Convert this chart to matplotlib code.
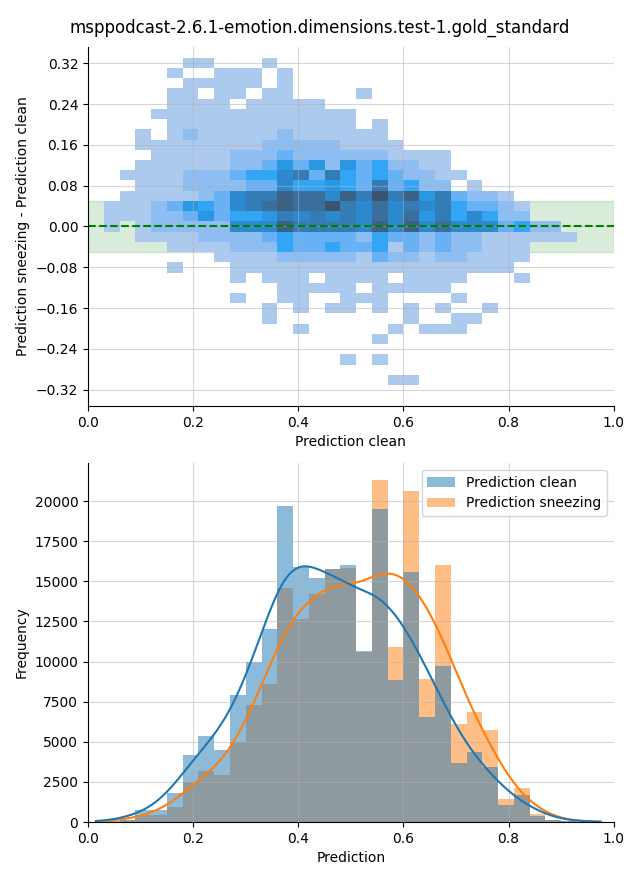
import numpy as np
import pandas as pd
import matplotlib
matplotlib.use('Agg')
import matplotlib.pyplot as plt
import seaborn as sns

title = 'msppodcast-2.6.1-emotion.dimensions.test-1.gold_standard'

# top: 2d histogram, prediction clean (x) vs. sneezing - clean (y)
# bins
x_lo, x_hi, n_x = 0.03, 0.93, 30
y_lo, y_hi, n_y = -0.311, 0.331, 32
# one string per row of cells, top row first, one hex digit per cell
# (relative count read off the colour, 0 = empty)
diff_rows = [
    "000001100010000000000000000000",
    "000010011101000000000000000000",
    "000001111101000000000000000000",
    "000011011011000010000000000000",
    "000011110111110000000000000000",
    "000111111111111100000000000000",
    "000011111111111101000000000000",
    "001012111112111111000000000000",
    "001111111122222111100000000000",
    "000111112223222222111100000000",
    "001111112235352534221100000000",
    "011112223446737434322110000000",
    "001112222336445437342201000000",
    "01111123677988697a795732210000",
    "11123543678988a768676743321000",
    "111223534457676768685746422000",
    "101222226669777769696866634220",
    "001111222234333324332322111111",
    "000011112224334334132322111000",
    "000000011112222213221221111000",
    "000010001111111111111111110000",
    "000000001011101111011110001000",
    "000000000001111101111100000000",
    "000000001001100111000010000000",
    "000000000010101101010100100000",
    "000000000010000000010011000000",
    "000000000000100000101110000000",
    "000000000000000001000000000000",
    "000000000000000000000000000000",
    "000000000000000101000000000000",
    "000000000000000000000000000000",
    "000000000000000000110000000000",
]

# bottom: histograms of both predictions, bins of 0.03 starting at 0
hist_bin = 0.03
counts_clean = [20, 60, 150, 750, 750, 1830, 4190, 5380, 4500, 7940, 9960,
                12000, 19690, 15880, 15230, 15750, 16000, 10690, 19500, 8830,
                15580, 6520, 9750, 3700, 4380, 3440, 1060, 1690, 380, 150,
                60, 20, 10]
counts_sneezing = [10, 30, 100, 460, 460, 960, 2500, 3190, 2900, 5000, 7310,
                   8630, 14560, 12630, 14190, 15750, 15850, 10580, 21310,
                   10880, 20630, 8940, 16000, 6130, 6850, 5750, 1420, 2100,
                   500, 120, 60, 20, 10]
series = ['Prediction clean', 'Prediction sneezing']


def plot_diff(ax):
    x_edges = np.linspace(x_lo, x_hi, n_x + 1)
    y_edges = np.linspace(y_lo, y_hi, n_y + 1)
    xc = (x_edges[:-1] + x_edges[1:]) / 2
    yc = (y_edges[:-1] + y_edges[1:]) / 2

    xs, ys, ws = [], [], []
    for j, row in enumerate(diff_rows):
        assert len(row) == n_x
        for i, c in enumerate(row):
            w = int(c, 16)
            if w > 0:
                xs.append(xc[i])
                ys.append(yc[n_y - 1 - j])
                ws.append(w)

    ax.axhspan(-0.05, 0.05, color='green', alpha=0.15, zorder=0)
    sns.histplot(x=np.array(xs), y=np.array(ys), weights=np.array(ws),
                 bins=(x_edges, y_edges), vmin=1, ax=ax)
    ax.axhline(0, color='green', linestyle='--', linewidth=1.5)
    ax.set_xlim(0, 1)
    ax.set_ylim(-0.352, 0.352)
    ax.set_yticks(np.arange(-4, 5) * 0.08)
    ax.grid(True, alpha=0.5)
    ax.set_xlabel('Prediction clean')
    ax.set_ylabel('Prediction sneezing - Prediction clean')


def plot_hist(ax):
    n = len(counts_clean)
    centers = (np.arange(n) + 0.5) * hist_bin
    df = pd.DataFrame({
        'Prediction': np.concatenate([centers, centers]),
        'Frequency': counts_clean + counts_sneezing,
        'series': [series[0]] * n + [series[1]] * n,
    })
    sns.histplot(data=df, x='Prediction', weights='Frequency', hue='series',
                 hue_order=series, binwidth=hist_bin,
                 binrange=(0, n * hist_bin), kde=True,
                 kde_kws={'bw_method': 0.28}, linewidth=0, ax=ax)
    sns.move_legend(ax, 'upper right', title='')
    ax.set_xlim(0, 1)
    ax.grid(True, alpha=0.5)
    ax.set_xlabel('Prediction')
    ax.set_ylabel('Frequency')


def main():
    fig, (ax1, ax2) = plt.subplots(2, 1, figsize=(6.4, 8.8), dpi=100)
    fig.subplots_adjust(left=0.1375, right=0.959, top=0.9466, bottom=0.0659,
                        hspace=0.159)
    plot_diff(ax1)
    plot_hist(ax2)
    for ax in (ax1, ax2):
        ax.spines['top'].set_visible(False)
        ax.spines['right'].set_visible(False)
    fig.suptitle(title, fontsize=12, y=0.979)
    fig.savefig('out.png')


if __name__ == '__main__':
    main()
